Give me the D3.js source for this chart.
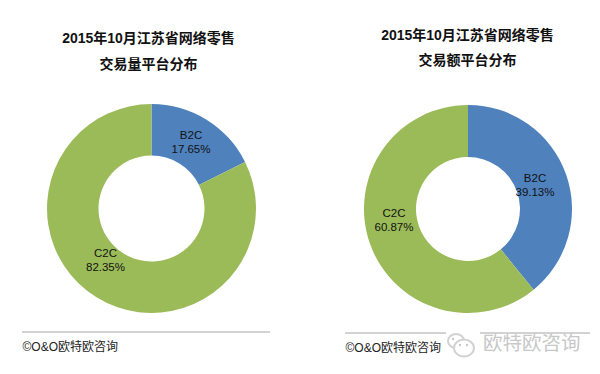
<!DOCTYPE html>
<html><head><meta charset="utf-8">
<script src="https://cdnjs.cloudflare.com/ajax/libs/d3/7.8.5/d3.min.js"></script>
<style>html,body{margin:0;padding:0;background:#fff}svg{display:block}</style></head>
<body><svg id="c" width="600" height="374"></svg>
<script>
const categories = ["B2C","C2C"];
const volumeShare = [17.65,82.35];
const valueShare = [39.13,60.87];
const volumeTitle = ["2015年10月江苏省网络零售","交易量平台分布"];
const valueTitle = ["2015年10月江苏省网络零售","交易额平台分布"];
const sourceText = "©O&O欧特欧咨询";
const watermarkText = "欧特欧咨询";
const colors = d3.scaleOrdinal().domain(categories).range(["#4f81bd","#9bbb59"]);
const CJK = "Arial, 'Liberation Sans', 'Noto Sans CJK SC', sans-serif";
const svg = d3.select("#c");

function donut(values, titles, cx, cy, R, r, tx, ty1, ty2, labelPos, rule, src){
  const g = svg.append("g");
  const pie = d3.pie().sort(null)(values);
  const arc = d3.arc().innerRadius(r).outerRadius(R);
  g.selectAll("path").data(pie).join("path")
    .attr("transform",`translate(${cx},${cy})`)
    .attr("d",arc).attr("fill",(d,i)=>colors(categories[i]));
  [ty1,ty2].forEach((y,i)=>g.append("text").attr("x",tx).attr("y",y)
    .attr("text-anchor","middle").attr("font-family",CJK).attr("font-weight","bold")
    .attr("font-size",14).attr("fill","#111").text(titles[i]));
  pie.forEach((d,i)=>{
    const t = g.append("text").attr("text-anchor","middle").attr("font-family",CJK)
      .attr("font-size",11.5).attr("fill","#111");
    t.append("tspan").attr("x",labelPos[i][0]).attr("y",labelPos[i][1]).text(categories[i]);
    t.append("tspan").attr("x",labelPos[i][0]).attr("y",labelPos[i][1]+14).text(values[i].toFixed(2)+"%");
  });
  g.append("line").attr("x1",rule[0]).attr("x2",rule[1]).attr("y1",rule[2]).attr("y2",rule[2])
    .attr("stroke","#a6a6a6").attr("stroke-width",1);
  g.append("text").attr("x",src[0]).attr("y",src[1]).attr("font-family",CJK)
    .attr("font-size",12).attr("fill","#222").text(sourceText);
}
donut(volumeShare,volumeTitle,151.5,208.5,104.5,53,148.5,43,69,[[191,139],[105.5,257]],[22,270,332],[22.5,351]);
donut(valueShare,valueTitle,468,209,104,52,467.5,40,65,[[535,182],[394,217]],[345,590,333],[345.5,352]);

// watermark
const wm = svg.append("g");
wm.append("rect").attr("x",446).attr("y",330).attr("width",34).attr("height",6).attr("fill","#fff");
wm.append("ellipse").attr("cx",456).attr("cy",341).attr("rx",8).attr("ry",7)
  .attr("fill","#fff").attr("stroke","#d2d2d2").attr("stroke-width",2);
wm.append("ellipse").attr("cx",464).attr("cy",348).attr("rx",10).attr("ry",8.5)
  .attr("fill","#fff").attr("stroke","#d2d2d2").attr("stroke-width",2);
wm.selectAll("circle").data([[453,339],[460,345],[467,345]]).join("circle")
  .attr("cx",d=>d[0]).attr("cy",d=>d[1]).attr("r",1.2).attr("fill","#c8c8c8");
wm.append("text").attr("x",483).attr("y",350).attr("font-family",CJK)
  .attr("font-size",19.5).attr("fill","#c8c8c8").text(watermarkText);
</script></body></html>
